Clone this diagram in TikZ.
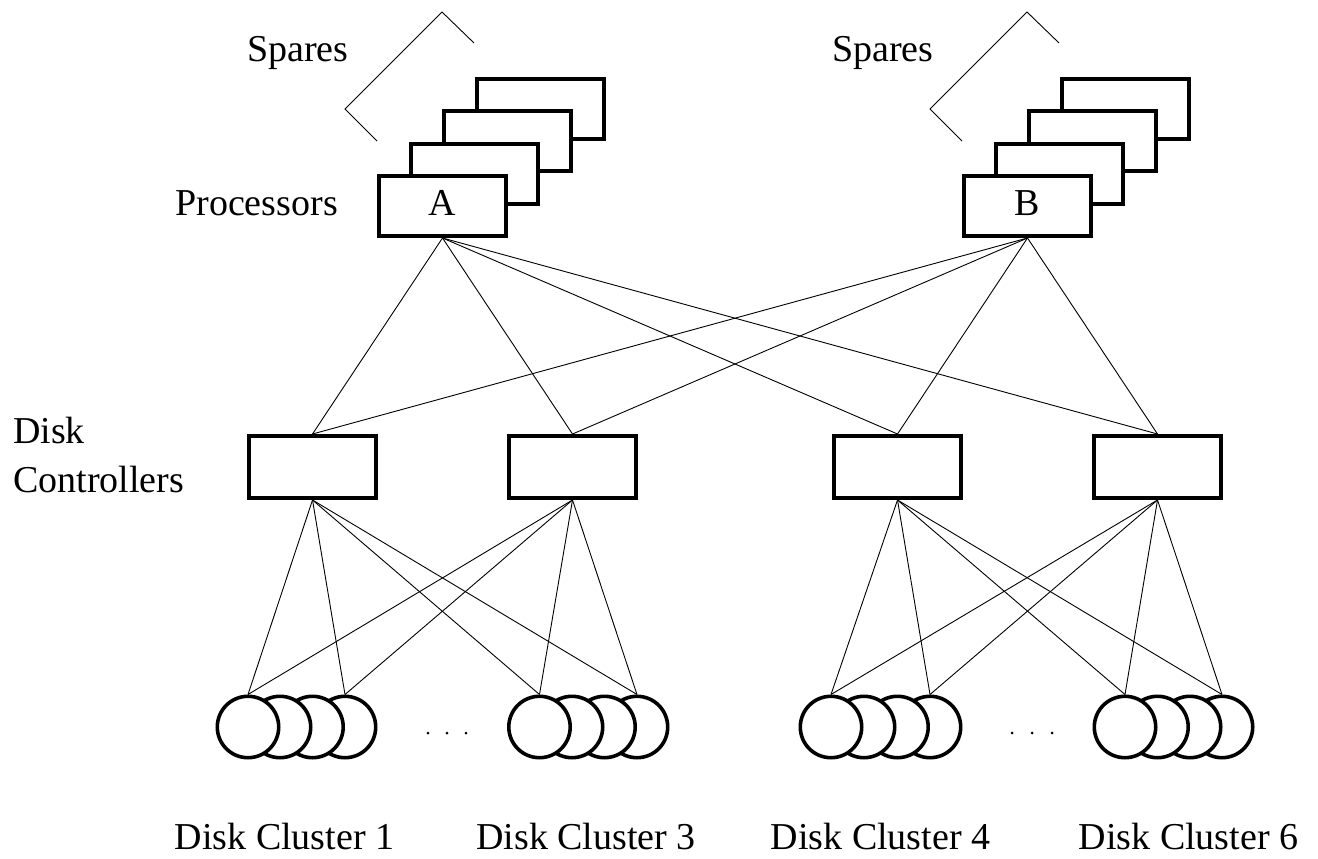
\documentclass[tikz,border=0pt]{standalone}
\usepackage{fontspec}
\setmainfont{Liberation Serif}
\begin{document}
\begin{tikzpicture}[x=1pt,y=-1pt,
  lbl/.style={font=\fontsize{38}{46}\selectfont, inner sep=0pt},
  pbox/.style={draw, line width=3.6pt, fill=white, minimum width=127.4pt, minimum height=60.4pt, inner sep=0pt},
  cbox/.style={draw, line width=3.6pt, fill=white, minimum width=127.4pt, minimum height=62.4pt, inner sep=0pt},
  disk/.style={draw, circle, line width=3.6pt, fill=white, minimum size=61.4pt, inner sep=0pt},
  wire/.style={line width=0.9pt},
  brk/.style={line width=0.9pt},
  dotmark/.style={fill=black, circle, inner sep=0pt, minimum size=3pt}]
\useasboundingbox (0,0) rectangle (1318,859);

% ---- spares brackets
\draw[brk] (474,43) -- (442,12) -- (345,109) -- (377,141);
\draw[brk] (1059,43) -- (1027,12) -- (930,109) -- (962,141);

% ---- processor stacks (back to front)
\node[pbox] (a3) at (540.5,109) {};
\node[pbox] (a2) at (507.5,141) {};
\node[pbox] (a1) at (474.5,174) {};
\node[pbox] (pA) at (442.5,206) {};
\node[lbl, anchor=base] (tA) at (442.5,215) {A};

\node[pbox] (b3) at (1125.5,109) {};
\node[pbox] (b2) at (1092.5,141) {};
\node[pbox] (b1) at (1059.5,174) {};
\node[pbox] (pB) at (1027.5,206) {};
\node[lbl, anchor=base] (tB) at (1027.5,215) {B};

% ---- labels
\node[lbl, anchor=base west] (sp1) at (247,62) {Spares};
\node[lbl, anchor=base west] (sp2) at (832,62) {Spares};
\node[lbl, anchor=base east] (proc) at (338,215) {Processors};
\node[lbl, anchor=base west] (dk) at (13,443) {Disk};
\node[lbl, anchor=base west] (ctl) at (13,492) {Controllers};

% ---- controllers
\node[cbox] (c1) at (312.5,467) {};
\node[cbox] (c2) at (572.5,467) {};
\node[cbox] (c3) at (897.5,467) {};
\node[cbox] (c4) at (1157.5,467) {};

% ---- processor to controller wires
\foreach \p in {pA,pB}{
  \foreach \c in {c1,c2,c3,c4}{
    \draw[wire] (\p.south) -- (\c.north);
  }
}

% ---- disk clusters (back to front)
\node[disk] (d1d) at (345,727) {};
\node[disk] (d1c) at (312.5,727) {};
\node[disk] (d1b) at (280,727) {};
\node[disk] (d1a) at (248,727) {};

\node[disk] (d3d) at (637,727) {};
\node[disk] (d3c) at (604.5,727) {};
\node[disk] (d3b) at (572,727) {};
\node[disk] (d3a) at (539.5,727) {};

\node[disk] (d4d) at (930,727) {};
\node[disk] (d4c) at (897.5,727) {};
\node[disk] (d4b) at (864,727) {};
\node[disk] (d4a) at (831,727) {};

\node[disk] (d6d) at (1222,727) {};
\node[disk] (d6c) at (1190,727) {};
\node[disk] (d6b) at (1157.5,727) {};
\node[disk] (d6a) at (1125,727) {};

% ---- controller to disk wires
\foreach \c in {c1,c2}{
  \foreach \d in {d1a,d1d,d3a,d3d}{
    \draw[wire] (\c.south) -- (\d.north);
  }
}
\foreach \c in {c3,c4}{
  \foreach \d in {d4a,d4d,d6a,d6d}{
    \draw[wire] (\c.south) -- (\d.north);
  }
}

% ---- ellipses
\node[dotmark] (e1) at (428,733) {};
\node[dotmark] (e2) at (447,733) {};
\node[dotmark] (e3) at (466,733) {};
\node[dotmark] (e4) at (1012,733) {};
\node[dotmark] (e5) at (1032,733) {};
\node[dotmark] (e6) at (1052,733) {};

% ---- cluster labels
\node[lbl, anchor=base] (l1) at (284.5,849) {Disk Cluster 1};
\node[lbl, anchor=base] (l3) at (586,849) {Disk Cluster 3};
\node[lbl, anchor=base] (l4) at (880.5,849) {Disk Cluster 4};
\node[lbl, anchor=base] (l6) at (1188.5,849) {Disk Cluster 6};
\end{tikzpicture}
\end{document}
